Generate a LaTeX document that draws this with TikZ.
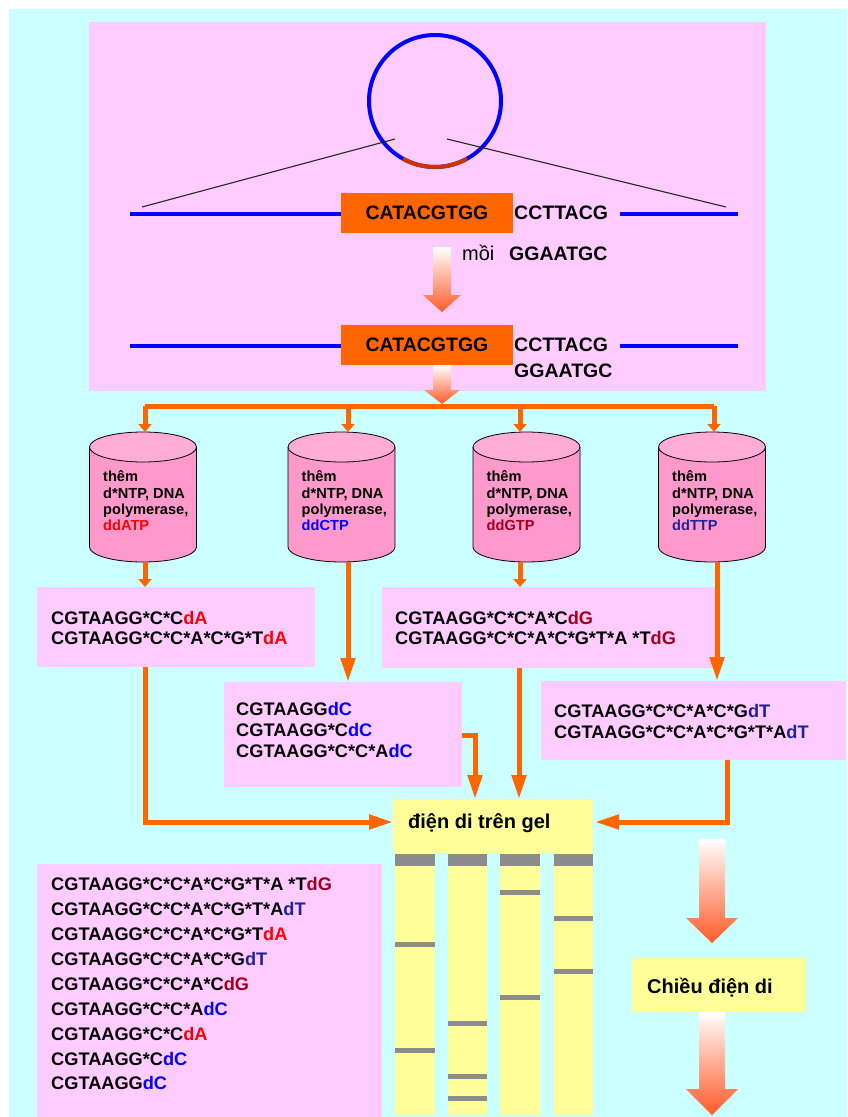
\documentclass[tikz,border=0pt]{standalone}
\usepackage{fontspec}
\setmainfont{Liberation Sans}
\usetikzlibrary{arrows.meta,calc}
\definecolor{bgcyan}{HTML}{CCFFFF}
\definecolor{pinkbox}{HTML}{FFCCFF}
\definecolor{orng}{HTML}{FF6600}
\definecolor{gelyel}{HTML}{FFFF99}
\definecolor{cylbody}{HTML}{FF99CC}
\definecolor{cyltop}{HTML}{FFADD6}
\definecolor{arrred}{HTML}{FF5A28}
\definecolor{ddg}{HTML}{A0001E}
\definecolor{ddt}{HTML}{22229A}
\definecolor{bandgray}{HTML}{8C8C8C}
\definecolor{arcred}{HTML}{CC3300}
\definecolor{dnablue}{HTML}{0000FF}
\newcommand\fsz[2]{\fontsize{#1}{#2}\selectfont}
\begin{document}
\begin{tikzpicture}[x=1pt,y=-1pt,
  orline/.style={draw=orng, line width=5pt},
  shorthead/.style={-{Triangle[length=8pt,width=13pt]}},
  longhead/.style={-{Triangle[length=24pt,width=14pt]}},
  pbox/.style={fill=pinkbox, draw=none, inner sep=0pt, anchor=north west},
  ybox/.style={fill=gelyel, draw=none, inner sep=0pt, anchor=north west},
  seq/.style={font=\bfseries\fsz{18.2}{18}, anchor=base west, inner sep=0pt},
  topseq/.style={font=\bfseries\fsz{19.5}{19.5}, anchor=base west, inner sep=0pt},
  dna/.style={draw=dnablue, line width=4pt},
  gradarrow/.style={top color=white, bottom color=arrred},
  cylline/.style={draw=black, line width=0.8pt},
  cyltext/.style={font=\bfseries\fsz{14.6}{16.4}, align=left, anchor=north west, inner sep=0pt},
  lane/.style={fill=gelyel},
  well/.style={fill=bandgray},
  band/.style={fill=bandgray}]
\useasboundingbox (0,0) rectangle (847,1117);
\fill[bgcyan] (9,9) rectangle (847,1117);

% ---------- top panel ----------
\node[pbox, minimum width=677pt, minimum height=369pt] (toppanel) at (89,22) {};
\draw[dnablue, line width=4pt] (435,101) circle[radius=66];
\draw[arcred, line width=4pt] ($(435,101)+(61:66)$) arc[start angle=61, end angle=119, radius=66];
\coordinate (zl) at (395,139);
\coordinate (zr) at (447,139);
\coordinate (zll) at (142,207);
\coordinate (zrr) at (726,207);
\draw[black!85, line width=1.1pt] (zl) -- (zll);
\draw[black!85, line width=1.1pt] (zr) -- (zrr);

\node[fill=orng, minimum width=172pt, minimum height=40pt, inner sep=0pt, font=\bfseries\fsz{19.5}{19.5}] (orA) at (427,213) {CATACGTGG};
\coordinate (l1a) at (130,214);
\coordinate (l1b) at (620,214);
\coordinate (l1c) at (738,214);
\draw[dna] (l1a) -- (orA.west |- l1a);
\draw[dna] (l1b) -- (l1c);
\node[topseq] (s1) at (514,219.5) {CCTTACG};
\node[font=\fsz{20}{20}, anchor=base west, inner sep=0pt] (moi) at (462,260) {mồi};
\node[topseq] (p1) at (509,260) {GGAATGC};

\shade[gradarrow] (433,247) -- (451,247) -- (451,295) -- (461,295) -- (442,312) -- (423,295) -- (433,295) -- cycle;

\node[fill=orng, minimum width=172pt, minimum height=40pt, inner sep=0pt, font=\bfseries\fsz{19.5}{19.5}] (orB) at (427,345) {CATACGTGG};
\coordinate (l2a) at (130,346);
\coordinate (l2b) at (620,346);
\coordinate (l2c) at (738,346);
\draw[dna] (l2a) -- (orB.west |- l2a);
\draw[dna] (l2b) -- (l2c);
\node[topseq] (s2) at (514,351.5) {CCTTACG};
\node[topseq] (p2) at (514,377) {GGAATGC};

% ---------- bus ----------
\coordinate (busL) at (145,406);
\coordinate (busR) at (714,406);
\draw[orline] (busL) -- (busR);
\shade[gradarrow] (433,365) -- (451,365) -- (451,390) -- (460,390) -- (442,404) -- (424,390) -- (433,390) -- cycle;

% ---------- cylinders ----------
\foreach \nm/\cx/\dtop/\dbot/\lab/\col in {A/143/145/145/ddATP/red, B/341.5/348/348/ddCTP/blue, C/526.5/520/520/ddGTP/ddg, D/712/714/717/ddTTP/ddt}{
  \fill[cylbody] (\cx-53.5,447) -- (\cx-53.5,547) arc[start angle=180, end angle=0, x radius=53.5, y radius=15] -- (\cx+53.5,447) -- cycle;
  \draw[cylline] (\cx-53.5,447) -- (\cx-53.5,547) arc[start angle=180, end angle=0, x radius=53.5, y radius=15] -- (\cx+53.5,447);
  \filldraw[fill=cyltop, cylline] (\cx,447) ellipse[x radius=53.5, y radius=15];
  \node[cyltext] (cyl\nm) at (\cx-40,470.5) {thêm\\d*NTP, DNA\\polymerase,\\\textcolor{\col}{\lab}};
  \coordinate (bus\nm) at (\dtop,406);
  \coordinate (cyl\nm in) at (\dtop,432);
  \coordinate (cyl\nm out) at (\dbot,562);
  \draw[orline, shorthead] (bus\nm) -- (cyl\nm in);
}

% ---------- product boxes ----------
\node[pbox, minimum width=278pt, minimum height=80pt] (boxA) at (37,587) {};
\node[seq] (a1) at (51,624) {CGTAAGG*C*C\textcolor{red}{dA}};
\node[seq] (a2) at (51,644) {CGTAAGG*C*C*A*C*G*T\textcolor{red}{dA}};

\node[pbox, minimum width=238pt, minimum height=105pt] (boxC) at (224,682) {};
\node[seq] (c1) at (236,715.5) {CGTAAGG\textcolor{blue}{dC}};
\node[seq] (c2) at (236,736.5) {CGTAAGG*C\textcolor{blue}{dC}};
\node[seq] (c3) at (236,757.5) {CGTAAGG*C*C*A\textcolor{blue}{dC}};

\node[pbox, minimum width=334pt, minimum height=81pt] (boxG) at (382,587) {};
\node[seq] (g1) at (395,624) {CGTAAGG*C*C*A*C\textcolor{ddg}{dG}};
\node[seq] (g2) at (395,644) {CGTAAGG*C*C*A*C*G*T*A *T\textcolor{ddg}{dG}};

\node[pbox, minimum width=305pt, minimum height=79pt] (boxT) at (541,681) {};
\node[seq] (t1) at (554,717) {CGTAAGG*C*C*A*C*G\textcolor{ddt}{dT}};
\node[seq] (t2) at (554,738) {CGTAAGG*C*C*A*C*G*T*A\textcolor{ddt}{dT}};

% cylinders to boxes
\draw[orline, shorthead] (cylAout) -- (cylAout |- boxA.north);
\draw[orline, longhead] (cylBout) -- (cylBout |- boxC.north);
\draw[orline, shorthead] (cylCout) -- (cylCout |- boxG.north);
\draw[orline, longhead] (cylDout) -- (cylDout |- boxT.north);

% ---------- gel ----------
\node[ybox, minimum width=200pt, minimum height=54pt] (gel) at (393,799) {};
\node[font=\bfseries\fsz{20}{20}, anchor=base west, inner sep=0pt] (gellab) at (408,828) {điện di trên gel};

\coordinate (gelL) at (393,822);
\coordinate (gelR) at (595,822);
\coordinate (aout) at (145,667);
\coordinate (cout) at (462,735);
\coordinate (gin1) at (475,799);
\coordinate (gout) at (519,668);
\coordinate (gin2) at (519,799);
\coordinate (tout) at (727,760);
\draw[orline, longhead] (aout) |- (gelL);
\draw[orline, longhead] (cout) -| (gin1);
\draw[orline, longhead] (gout) -- (gin2);
\draw[orline, longhead] (tout) |- (gelR);

\foreach \xa/\xb in {395/435, 448/487, 500/540, 554/593}{
  \fill[lane] (\xa,853) rectangle (\xb,1115);
  \fill[well] (\xa,854) rectangle (\xb,866);
}
\foreach \xa/\xb/\yy in {395/435/944, 395/435/1050, 448/487/1023, 448/487/1076, 448/487/1098, 500/540/892, 500/540/997, 554/593/918, 554/593/971}{
  \fill[band] (\xa,\yy-2.5) rectangle (\xb,\yy+2.5);
}

% ---------- list ----------
\node[pbox, minimum width=345pt, minimum height=253pt] (list) at (37,864) {};
\node[seq] (r1) at (51,890.7) {CGTAAGG*C*C*A*C*G*T*A *T\textcolor{ddg}{dG}};
\node[seq] (r2) at (51,915.6) {CGTAAGG*C*C*A*C*G*T*A\textcolor{ddt}{dT}};
\node[seq] (r3) at (51,940.5) {CGTAAGG*C*C*A*C*G*T\textcolor{red}{dA}};
\node[seq] (r4) at (51,965.4) {CGTAAGG*C*C*A*C*G\textcolor{ddt}{dT}};
\node[seq] (r5) at (51,990.3) {CGTAAGG*C*C*A*C\textcolor{ddg}{dG}};
\node[seq] (r6) at (51,1015.2) {CGTAAGG*C*C*A\textcolor{blue}{dC}};
\node[seq] (r7) at (51,1040.1) {CGTAAGG*C*C\textcolor{red}{dA}};
\node[seq] (r8) at (51,1065.0) {CGTAAGG*C\textcolor{blue}{dC}};
\node[seq] (r9) at (51,1089.9) {CGTAAGG\textcolor{blue}{dC}};

% ---------- direction ----------
\shade[gradarrow] (699,839) -- (725,839) -- (725,918) -- (738,918) -- (712,943) -- (686,918) -- (699,918) -- cycle;
\node[ybox, minimum width=174pt, minimum height=54pt] (dir) at (632,958) {};
\node[font=\bfseries\fsz{20}{20}, anchor=base west, inner sep=0pt] (dirlab) at (647,993) {Chiều điện di};
\shade[gradarrow] (699,1012) -- (725,1012) -- (725,1089) -- (738,1089) -- (712,1115) -- (686,1089) -- (699,1089) -- cycle;
\end{tikzpicture}
\end{document}
